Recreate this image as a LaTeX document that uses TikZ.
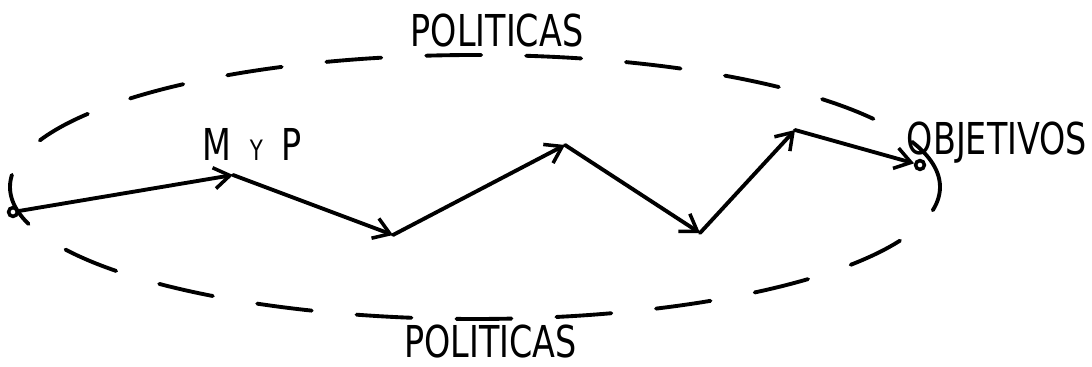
\documentclass[tikz,border=0pt]{standalone}
\usepackage{fontspec}
\newfontfamily\handfont[FakeStretch=0.76]{DejaVu Sans}
\usetikzlibrary{arrows.meta,positioning}
\tikzset{
  lbl/.style={inner sep=0pt,font=\handfont\fontsize{25}{28}\selectfont},
  orbit/.style={draw,line width=2.2pt,dash pattern=on 1.1cm off 0.9cm,line cap=round},
  arr/.style={-{Straight Barb[length=9pt,width=12pt,line width=2pt]},line width=2.2pt,line cap=round},
  endpt/.style={draw,circle,line width=2pt,inner sep=0pt,minimum size=5pt},
}
\begin{document}
\begin{tikzpicture}
  \useasboundingbox (0,0) rectangle (21.84,7.34);

  \draw[orbit] (9.5,3.6) ellipse (9.3cm and 2.64cm);

  \node[endpt] (start) at (0.26,3.10) {};
  \coordinate (myp) at (4.66,3.84);
  \coordinate (low1) at (7.86,2.64);
  \coordinate (top1) at (11.30,4.44);
  \coordinate (low2) at (14.00,2.68);
  \coordinate (top2) at (15.90,4.74);
  \node[endpt] (obj) at (18.40,4.04) {};

  \node[lbl] (pol_top) at (9.94,6.72) {POLITICAS};
  \node[lbl] (myp_lbl) at (5.04,4.46) {M\hspace{0.38cm}{\fontsize{16}{18}\selectfont Y}\hspace{0.38cm}P};
  \node[lbl] (obj_lbl) at (19.94,4.49) {OBJETIVOS};
  \node[lbl] (pol_bot) at (9.81,0.51) {POLITICAS};

  \draw[arr] (start)--(myp); \draw[arr] (myp)--(low1);
  \draw[arr] (low1)--(top1); \draw[arr] (top1)--(low2);
  \draw[arr] (low2)--(top2); \draw[arr] (top2)--(obj);
\end{tikzpicture}
\end{document}
